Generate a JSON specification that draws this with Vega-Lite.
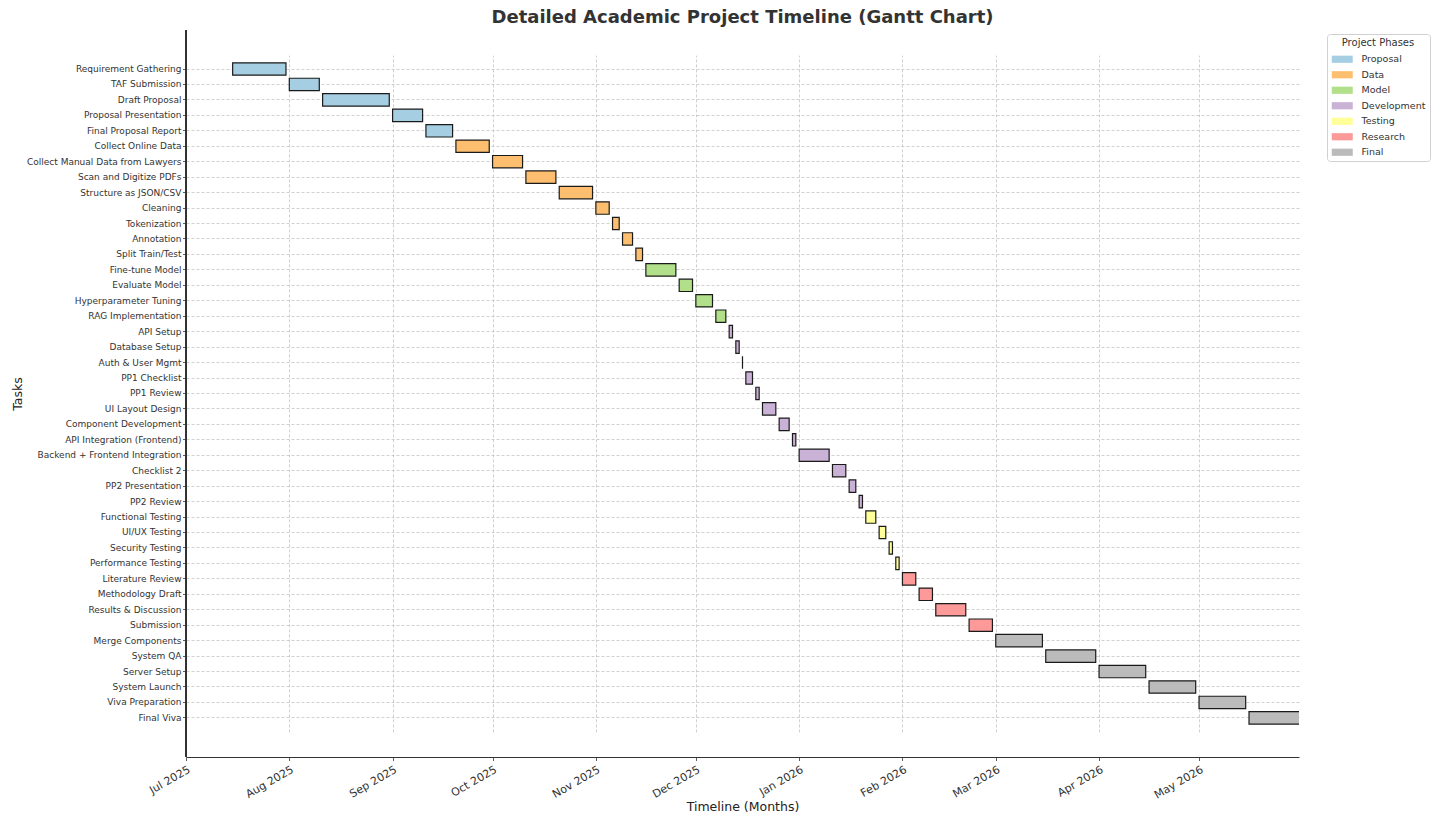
{
  "$schema": "https://vega.github.io/schema/vega-lite/v6.json",
  "width": 1113,
  "height": 727,
  "autosize": "none",
  "padding": {"left": 186, "top": 30, "right": 135, "bottom": 63},
  "background": "white",
  "title": {
    "text": "Detailed Academic Project Timeline (Gantt Chart)",
    "anchor": "middle",
    "frame": "group",
    "font": "DejaVu Sans",
    "fontSize": 18,
    "fontWeight": "bold",
    "color": "#333333",
    "offset": 3
  },
  "data": {
    "values": [
      {"task": "Requirement Gathering", "phase": "Proposal", "start": "2025-07-15", "end": "2025-07-31"},
      {"task": "TAF Submission", "phase": "Proposal", "start": "2025-08-01", "end": "2025-08-10"},
      {"task": "Draft Proposal", "phase": "Proposal", "start": "2025-08-11", "end": "2025-08-31"},
      {"task": "Proposal Presentation", "phase": "Proposal", "start": "2025-09-01", "end": "2025-09-10"},
      {"task": "Final Proposal Report", "phase": "Proposal", "start": "2025-09-11", "end": "2025-09-19"},
      {"task": "Collect Online Data", "phase": "Data", "start": "2025-09-20", "end": "2025-09-30"},
      {"task": "Collect Manual Data from Lawyers", "phase": "Data", "start": "2025-10-01", "end": "2025-10-10"},
      {"task": "Scan and Digitize PDFs", "phase": "Data", "start": "2025-10-11", "end": "2025-10-20"},
      {"task": "Structure as JSON/CSV", "phase": "Data", "start": "2025-10-21", "end": "2025-10-31"},
      {"task": "Cleaning", "phase": "Data", "start": "2025-11-01", "end": "2025-11-05"},
      {"task": "Tokenization", "phase": "Data", "start": "2025-11-06", "end": "2025-11-08"},
      {"task": "Annotation", "phase": "Data", "start": "2025-11-09", "end": "2025-11-12"},
      {"task": "Split Train/Test", "phase": "Data", "start": "2025-11-13", "end": "2025-11-15"},
      {"task": "Fine-tune Model", "phase": "Model", "start": "2025-11-16", "end": "2025-11-25"},
      {"task": "Evaluate Model", "phase": "Model", "start": "2025-11-26", "end": "2025-11-30"},
      {"task": "Hyperparameter Tuning", "phase": "Model", "start": "2025-12-01", "end": "2025-12-06"},
      {"task": "RAG Implementation", "phase": "Model", "start": "2025-12-07", "end": "2025-12-10"},
      {"task": "API Setup", "phase": "Development", "start": "2025-12-11", "end": "2025-12-12"},
      {"task": "Database Setup", "phase": "Development", "start": "2025-12-13", "end": "2025-12-14"},
      {"task": "Auth & User Mgmt", "phase": "Development", "start": "2025-12-15", "end": "2025-12-15"},
      {"task": "PP1 Checklist", "phase": "Development", "start": "2025-12-16", "end": "2025-12-18"},
      {"task": "PP1 Review", "phase": "Development", "start": "2025-12-19", "end": "2025-12-20"},
      {"task": "UI Layout Design", "phase": "Development", "start": "2025-12-21", "end": "2025-12-25"},
      {"task": "Component Development", "phase": "Development", "start": "2025-12-26", "end": "2025-12-29"},
      {"task": "API Integration (Frontend)", "phase": "Development", "start": "2025-12-30", "end": "2025-12-31"},
      {"task": "Backend + Frontend Integration", "phase": "Development", "start": "2026-01-01", "end": "2026-01-10"},
      {"task": "Checklist 2", "phase": "Development", "start": "2026-01-11", "end": "2026-01-15"},
      {"task": "PP2 Presentation", "phase": "Development", "start": "2026-01-16", "end": "2026-01-18"},
      {"task": "PP2 Review", "phase": "Development", "start": "2026-01-19", "end": "2026-01-20"},
      {"task": "Functional Testing", "phase": "Testing", "start": "2026-01-21", "end": "2026-01-24"},
      {"task": "UI/UX Testing", "phase": "Testing", "start": "2026-01-25", "end": "2026-01-27"},
      {"task": "Security Testing", "phase": "Testing", "start": "2026-01-28", "end": "2026-01-29"},
      {"task": "Performance Testing", "phase": "Testing", "start": "2026-01-30", "end": "2026-01-31"},
      {"task": "Literature Review", "phase": "Research", "start": "2026-02-01", "end": "2026-02-05"},
      {"task": "Methodology Draft", "phase": "Research", "start": "2026-02-06", "end": "2026-02-10"},
      {"task": "Results & Discussion", "phase": "Research", "start": "2026-02-11", "end": "2026-02-20"},
      {"task": "Submission", "phase": "Research", "start": "2026-02-21", "end": "2026-02-28"},
      {"task": "Merge Components", "phase": "Final", "start": "2026-03-01", "end": "2026-03-15"},
      {"task": "System QA", "phase": "Final", "start": "2026-03-16", "end": "2026-03-31"},
      {"task": "Server Setup", "phase": "Final", "start": "2026-04-01", "end": "2026-04-15"},
      {"task": "System Launch", "phase": "Final", "start": "2026-04-16", "end": "2026-04-30"},
      {"task": "Viva Preparation", "phase": "Final", "start": "2026-05-01", "end": "2026-05-15"},
      {"task": "Final Viva", "phase": "Final", "start": "2026-05-16", "end": "2026-06-05"}
    ]
  },
  "layer": [
    {
      "mark": {"type": "bar", "stroke": "#1a1a1a", "strokeWidth": 1.2, "clip": true},
      "encoding": {
        "y": {
          "field": "task",
          "type": "nominal",
          "sort": null,
          "scale": {"paddingInner": 0.2, "paddingOuter": 0.5, "range": [25.1, 701.8]},
          "axis": {
            "title": "Tasks",
            "titleX": -169,
            "titleY": 363.5,
            "titleAngle": 270,
            "titleAlign": "center",
            "titleBaseline": "middle",
            "titleFontSize": 12.5,
            "titleFontWeight": "normal",
            "labelFontSize": 9,
            "labelPadding": 1.5,
            "tickSize": 3.5,
            "domain": false,
            "grid": true
          }
        },
        "x": {
          "field": "start",
          "type": "temporal",
          "scale": {
            "type": "utc",
            "domain": [
              {"year": 2025, "month": 7, "date": 1, "utc": true},
              {"year": 2026, "month": 5, "date": 31, "utc": true}
            ]
          },
          "axis": {
            "title": "Timeline (Months)",
            "titleY": 49,
            "titleBaseline": "middle",
            "titleFontSize": 12.5,
            "titleFontWeight": "normal",
            "format": "%b %Y",
            "tickCount": {"interval": "month", "step": 1},
            "labelAngle": -30,
            "labelAlign": "right",
            "labelBaseline": "top",
            "labelFontSize": 11,
            "labelPadding": 3,
            "labelOverlap": false,
            "tickSize": 3.5,
            "grid": true
          }
        },
        "x2": {"field": "end"},
        "color": {
          "field": "phase",
          "type": "nominal",
          "scale": {
            "domain": ["Proposal", "Data", "Model", "Development", "Testing", "Research", "Final"],
            "range": ["#a6cee3", "#fdbf6f", "#b2df8a", "#cab2d6", "#ffff99", "#fb9a99", "#bbbbbb"]
          },
          "legend": {
            "title": "Project Phases",
            "orient": "none",
            "legendX": 1141,
            "legendY": 4,
            "symbolType": "M-1,-0.9L4.25,-0.9L4.25,0.9L-1,0.9Z",
            "symbolSize": 64,
            "symbolStrokeWidth": 0,
            "symbolOpacity": 1,
            "labelFontSize": 9.5,
            "labelOffset": 21,
            "titleFontSize": 10,
            "titleFontWeight": "normal",
            "titleAnchor": "middle",
            "titlePadding": 6.5,
            "rowPadding": 4.5,
            "padding": 4,
            "strokeColor": "#d0d0d0",
            "fillColor": "white",
            "cornerRadius": 3
          }
        }
      }
    },
    {
      "mark": {"type": "rule", "color": "#333333", "strokeWidth": 1},
      "encoding": {
        "x": {"datum": {"year": 2025, "month": 7, "date": 1, "utc": true}, "type": "temporal"}
      }
    }
  ],
  "config": {
    "font": "DejaVu Sans",
    "view": {"stroke": null},
    "axis": {
      "domainColor": "#333333",
      "domainWidth": 1,
      "tickColor": "#333333",
      "tickWidth": 0.8,
      "labelColor": "#333333",
      "titleColor": "#222222",
      "labelFont": "DejaVu Sans",
      "titleFont": "DejaVu Sans",
      "gridColor": "#c4c4c4",
      "gridDash": [3, 2],
      "gridWidth": 0.8
    },
    "legend": {
      "labelFont": "DejaVu Sans",
      "titleFont": "DejaVu Sans",
      "labelColor": "#333333",
      "titleColor": "#333333"
    }
  }
}
